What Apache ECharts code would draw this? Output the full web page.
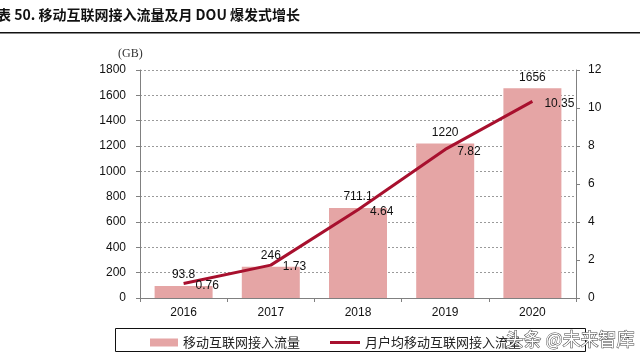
<!DOCTYPE html>
<html><head><meta charset="utf-8">
<script src="https://cdn.jsdelivr.net/npm/echarts@6/dist/echarts.min.js"></script>
<style>html,body{margin:0;padding:0;background:#fff}#c{width:640px;height:359px}</style>
</head><body><div id="c"></div>
<script>
const categories = ['2016', '2017', '2018', '2019', '2020'];
const trafficGB = [93.8, 246, 711.1, 1220, 1656];
const trafficLabels = ['93.8', '246', '711.1', '1220', '1656'];
const douGB = [0.76, 1.73, 4.64, 7.82, 10.35];
const douLabels = ['0.76', '1.73', '4.64', '7.82', '10.35'];
const leftTicks = [0, 200, 400, 600, 800, 1000, 1200, 1400, 1600, 1800];
const rightTicks = [0, 2, 4, 6, 8, 10, 12];
const barName = '移动互联网接入流量';
const lineName = '月户均移动互联网接入流量';
const titleText = '表 50. 移动互联网接入流量及月 DOU 爆发式增长';
const unitText = '(GB)';
const watermark = '头条 @未来智库';

const chart = echarts.init(document.getElementById('c'));
const lab = {fontFamily: 'Liberation Sans, Arial', fontSize: 12, color: '#111'};
chart.setOption({
  animation: false,
  grid: {left: 140, right: 64, top: 70, bottom: 61},
  graphic: [
    {type: 'text', left: -3, top: 8, style: {text: titleText, font: 'bold 14px "Noto Sans CJK SC"', fill: '#111'}},
    {type: 'rect', shape: {x: 0, y: 32, width: 640, height: 1.5}, style: {fill: '#111'}},
    {type: 'text', left: 118, top: 48, style: {text: unitText, font: '12px "Liberation Serif"', fill: '#333'}},
    {type: 'rect', shape: {x: 115.5, y: 328.5, width: 470, height: 23}, style: {fill: 'none', stroke: '#111', lineWidth: 1}, z: 1},
    {type: 'text', left: 505, top: 330, z: 100, style: {text: watermark, font: '18px "Noto Sans CJK SC"', fill: '#fff', stroke: '#444', lineWidth: 1}}
  ],
  legend: [
    {left: 145, top: 331, itemWidth: 28, itemHeight: 8, icon: 'rect',
     textStyle: {fontFamily: 'Noto Sans CJK SC', fontSize: 13, color: '#222'}, data: [barName]},
    {left: 325, top: 331, itemWidth: 30, itemHeight: 3, icon: 'rect',
     textStyle: {fontFamily: 'Noto Sans CJK SC', fontSize: 13, color: '#222'}, data: [lineName]}
  ],
  xAxis: {
    type: 'category', data: categories,
    axisLine: {lineStyle: {color: '#808080'}},
    axisTick: {show: true, lineStyle: {color: '#808080'}, length: 4},
    axisLabel: Object.assign({margin: 9}, lab)
  },
  yAxis: [
    {type: 'value', min: 0, max: 1800, interval: 200,
     axisLine: {show: true, lineStyle: {color: '#808080'}},
     axisTick: {show: true, length: 4, lineStyle: {color: '#808080'}},
     axisLabel: Object.assign({margin: 14, formatter: v => leftTicks.includes(v) ? String(v) : ''}, lab),
     splitLine: {show: true, lineStyle: {color: '#9a9a9a', type: [2, 2], width: 1}}},
    {type: 'value', min: 0, max: 12, interval: 2,
     axisLine: {show: true, lineStyle: {color: '#808080'}},
     axisTick: {show: true, length: 4, lineStyle: {color: '#808080'}},
     axisLabel: Object.assign({margin: 12, formatter: v => rightTicks.includes(v) ? String(v) : ''}, lab),
     splitLine: {show: false}}
  ],
  series: [
    {name: barName, type: 'bar', data: trafficGB, barWidth: 58,
     itemStyle: {color: '#E5A5A5'},
     label: {show: true, position: 'top', distance: 5, formatter: p => trafficLabels[p.dataIndex], fontFamily: 'Liberation Sans, Arial', fontSize: 12, color: '#111'}},
    {name: lineName, type: 'line', yAxisIndex: 1, data: douGB, symbol: 'circle', symbolSize: 0, showSymbol: true,
     lineStyle: {color: '#A8102E', width: 3}, itemStyle: {color: '#A8102E'},
     label: {show: true, position: 'right', distance: 12, offset: [0, 2], formatter: p => douLabels[p.dataIndex], fontFamily: 'Liberation Sans, Arial', fontSize: 12, color: '#111'}}
  ]
});
</script></body></html>
